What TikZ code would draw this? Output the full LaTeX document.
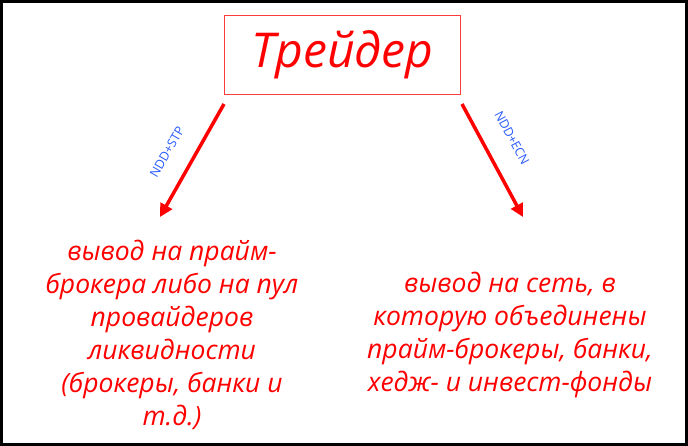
\documentclass[tikz,border=0pt]{standalone}
\usepackage{fontspec}
\setmainfont{Open Sans}
\usepackage{tikz}
\usetikzlibrary{arrows.meta}
\definecolor{frame red}{RGB}{255,60,60}
\definecolor{label blue}{RGB}{40,90,255}

\begin{document}
\begin{tikzpicture}[x=1pt, y=-1pt,
		txt/.style={text=red, font=\itshape\fontsize{26.5}{33}\selectfont, align=center},
		route/.style={red, line width=3.5pt, -{Triangle[length=13pt, width=13pt]}},
		tag/.style={text=label blue, font=\fontsize{12.5}{14}\selectfont, inner sep=1pt}]
		\useasboundingbox (0,0) rectangle (688,446);
		\draw[line width=3pt] (1.5,1.5) rectangle (686.5,444.5);
		\node[draw=frame red, line width=1.3pt, minimum width=236pt, minimum height=79pt,
			text=red, font=\itshape\fontsize{48}{50}\selectfont] (trader) at (342.5,55) {\raisebox{-4pt}{Трейдер}};
		\node[txt] (stp) at (172,335) {вывод на прайм-\\брокера либо на пул\\провайдеров\\ликвидности\\(брокеры, банки и\\т.д.)};
		\node[txt] (ecn) at (510,335) {вывод на сеть, в\\которую объединены\\прайм-брокеры, банки,\\хедж- и инвест-фонды};
		\coordinate (A) at (224,104);
		\coordinate (B) at (160,217);
		\coordinate (C) at (462,104);
		\coordinate (D) at (523,217);
		\draw[route] (A) -- (B);
		\draw[route] (C) -- (D);
		\node[tag, rotate=60] at (167,152) {NDD+STP};
		\node[tag, rotate=-62] at (512,138) {NDD+ECN};
		\end{tikzpicture}
\end{document}
